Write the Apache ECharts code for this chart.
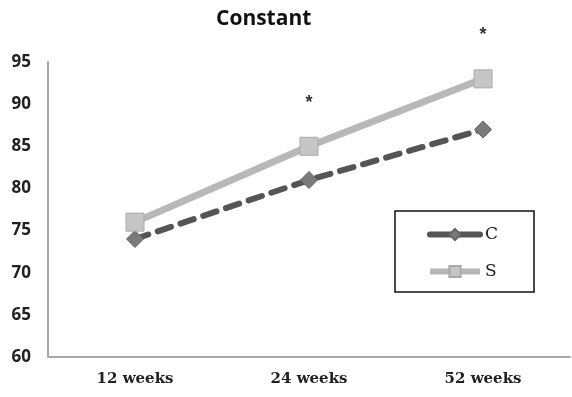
<!DOCTYPE html>
<html>
<head>
<meta charset="utf-8">
<script src="https://cdn.jsdelivr.net/npm/echarts@6/dist/echarts.min.js"></script>
<style>
  html, body { margin: 0; padding: 0; background: #fff; }
</style>
</head>
<body>
<div id="myConstantChart" style="width: 572px; height: 397px;"></div>
<script>
// weeks on the x axis
let weekLabels = ['12 weeks', '24 weeks', '52 weeks']
let cData = [74, 81, 87]
let sData = [76, 85, 93]
// significance marks drawn above the S points
let sigMarks = ['', '*', '*']
let yTicks = { min: 60, max: 95, step: 5 }

let myChart = echarts.init(document.getElementById('myConstantChart'))
myChart.setOption({
  animation: false,
  title: {
    text: 'Constant',
    left: 211,
    top: 4,
    textStyle: { fontFamily: 'Open Sans', fontWeight: 'bold', fontSize: 21, color: '#111' }
  },
  legend: {
    orient: 'vertical',
    left: 395,
    top: 211,
    padding: [15, 36, 12, 32],
    itemWidth: 50,
    itemHeight: 14,
    itemGap: 20,
    borderColor: '#111',
    borderWidth: 1.5,
    backgroundColor: '#fff',
    textStyle: { fontFamily: 'DejaVu Serif', fontSize: 17, color: '#222' },
    data: [
      { name: 'C', lineStyle: { type: 'solid', width: 6 } },
      { name: 'S', lineStyle: { type: 'solid', width: 6 } }
    ]
  },
  grid: {
    left: 48,
    right: 2,
    top: 62,
    bottom: 40
  },
  xAxis: {
    type: 'category',
    data: weekLabels,
    axisLine: { lineStyle: { color: '#a8a8a8', width: 2 } },
    axisTick: { show: false },
    axisLabel: {
      margin: 15,
      fontFamily: 'DejaVu Serif',
      fontWeight: 'bold',
      fontSize: 15,
      color: '#222'
    }
  },
  yAxis: {
    type: 'value',
    min: yTicks.min,
    max: yTicks.max,
    interval: yTicks.step,
    axisLine: { show: true, lineStyle: { color: '#a8a8a8', width: 2 } },
    axisTick: { show: false },
    splitLine: { show: false },
    axisLabel: {
      margin: 17,
      fontFamily: 'Open Sans',
      fontWeight: 'bold',
      fontSize: 17,
      color: '#222'
    }
  },
  series: [
    {
      name: 'C',
      type: 'line',
      data: cData,
      symbol: 'diamond',
      symbolSize: 17,
      color: '#6e6e6e',
      itemStyle: { color: '#7a7a7a', borderColor: '#666', borderWidth: 1 },
      lineStyle: { color: '#555', width: 6, type: [14, 10], cap: 'round' },
      z: 2
    },
    {
      name: 'S',
      type: 'line',
      data: sData,
      symbol: 'rect',
      symbolSize: 18,
      color: '#bdbdbd',
      itemStyle: { color: '#c6c6c6', borderColor: '#aaa', borderWidth: 1 },
      lineStyle: { color: '#b8b8b8', width: 7 },
      label: {
        show: true,
        position: 'top',
        distance: 25,
        fontSize: 18,
        fontWeight: 'bold',
        color: '#333',
        formatter: function (p) { return sigMarks[p.dataIndex] }
      },
      z: 3
    }
  ]
})
</script>
</body>
</html>
